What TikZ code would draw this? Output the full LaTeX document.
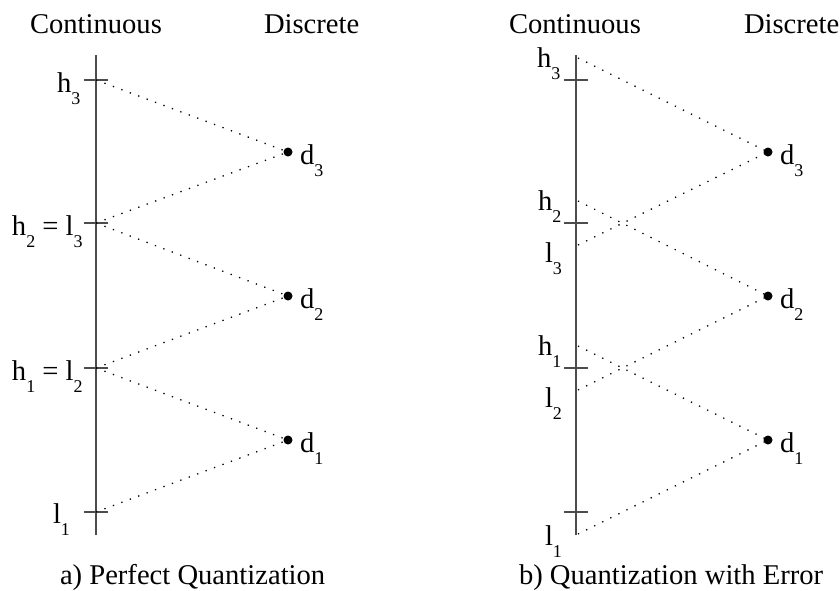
\documentclass[tikz,border=0pt]{standalone}
\usepackage{fontspec}
\setmainfont{Liberation Serif}
\newcommand\sbs[1]{\raisebox{-0.42em}{\fontsize{18}{21}\selectfont #1}}
\begin{document}
\begin{tikzpicture}[x=1pt,y=-1pt,
  lbl/.style={anchor=base west,inner sep=0pt,outer sep=0pt,font=\fontsize{28.6}{34}\selectfont},
  axisline/.style={draw={rgb,1:red,0.3;green,0.3;blue,0.3},line width=1.3pt},
  dotline/.style={draw=black,line width=1.3pt,dash pattern=on 1.3pt off 7.7pt},
  qdot/.style={circle,fill=black,inner sep=0pt,minimum size=9pt}]
\useasboundingbox (0,0) rectangle (840,590);
% ---------- left panel ----------
\node[lbl] (contA) at (30,33) {Continuous};
\node[lbl] (discA) at (264,33) {Discrete};
\coordinate (atop) at (96,55);
\coordinate (abot) at (96,535);
\draw[axisline] (atop) -- (abot);
\foreach \y/\n in {80/t3,223/t2,368/t1,512/t0}{
  \coordinate (a\n) at (96,\y);
  \draw[axisline] (84,\y) -- (108,\y);
}
\node[qdot] (ad3) at (288,152) {};
\node[qdot] (ad2) at (288,296) {};
\node[qdot] (ad1) at (288,440) {};
\draw[dotline] (at3) -- (ad3.center);
\draw[dotline] (at2) -- (ad3.center);
\draw[dotline] (at2) -- (ad2.center);
\draw[dotline] (at1) -- (ad2.center);
\draw[dotline] (at1) -- (ad1.center);
\draw[dotline] (at0) -- (ad1.center);
\node[lbl] (ah3) at (57,92) {h\sbs{3}};
\node[lbl] (ah2) at (12,235) {h\sbs{2} = l\sbs{3}};
\node[lbl] (ah1) at (12,380) {h\sbs{1} = l\sbs{2}};
\node[lbl] (al1) at (53,523) {l\sbs{1}};
\node[lbl] (adl3) at (300,164) {d\sbs{3}};
\node[lbl] (adl2) at (300,308) {d\sbs{2}};
\node[lbl] (adl1) at (300,452) {d\sbs{1}};
\node[lbl] (capA) at (60,584) {a) Perfect Quantization};
% ---------- right panel ----------
\node[lbl] (contB) at (509,33) {Continuous};
\node[lbl] (discB) at (744,33) {Discrete};
\coordinate (btop) at (576,55);
\coordinate (bbot) at (576,535);
\draw[axisline] (btop) -- (bbot);
\foreach \y in {80,223,368,512}{
  \draw[axisline] (564,\y) -- (588,\y);
}
\coordinate (bh3) at (578,58);
\coordinate (bh2) at (578,201);
\coordinate (bl3) at (578,245);
\coordinate (bh1) at (578,346);
\coordinate (bl2) at (578,390);
\coordinate (bl1) at (578,534);
\node[qdot] (bd3) at (768,152) {};
\node[qdot] (bd2) at (768,296) {};
\node[qdot] (bd1) at (768,440) {};
\draw[dotline] (bh3) -- (bd3.center);
\draw[dotline] (bl3) -- (bd3.center);
\draw[dotline] (bh2) -- (bd2.center);
\draw[dotline] (bl2) -- (bd2.center);
\draw[dotline] (bh1) -- (bd1.center);
\draw[dotline] (bl1) -- (bd1.center);
\node[lbl] (bth3) at (537,67) {h\sbs{3}};
\node[lbl] (bth2) at (538,210) {h\sbs{2}};
\node[lbl] (btl3) at (545,262) {l\sbs{3}};
\node[lbl] (bth1) at (538,355) {h\sbs{1}};
\node[lbl] (btl2) at (545,407) {l\sbs{2}};
\node[lbl] (btl1) at (545,545) {l\sbs{1}};
\node[lbl] (bdl3) at (780,164) {d\sbs{3}};
\node[lbl] (bdl2) at (780,308) {d\sbs{2}};
\node[lbl] (bdl1) at (780,452) {d\sbs{1}};
\node[lbl] (capB) at (519,584) {b) Quantization with Error};
\end{tikzpicture}
\end{document}
